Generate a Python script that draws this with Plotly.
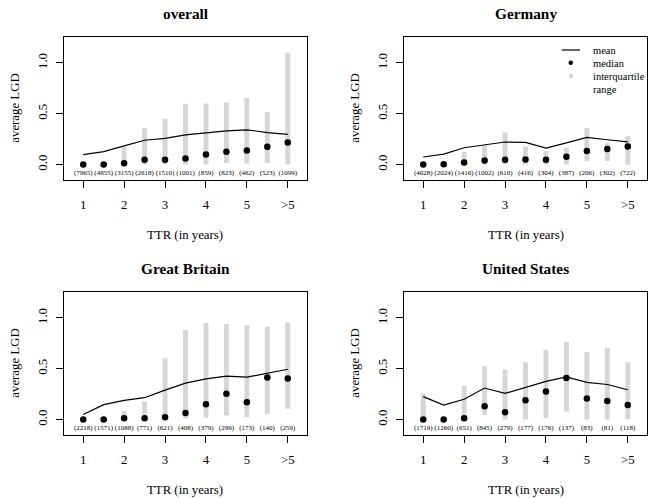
import plotly.graph_objects as go

W, H = 653, 498
FONT = "Liberation Serif"

positions = [1, 2, 3, 4, 5, 6, 7, 8, 9, 10, 11]
tick_positions = [1, 3, 5, 7, 9, 11]
tick_labels = ["1", "2", "3", "4", "5", ">5"]
y_ticks = [0.0, 0.5, 1.0]
y_tick_labels = ["0.0", "0.5", "1.0"]

panel_titles = ["overall", "Germany", "Great Britain", "United States"]

counts_overall = [7965, 4855, 3155, 2618, 1510, 1001, 859, 823, 462, 523, 1099]
mean_overall = [0.098, 0.127, 0.183, 0.239, 0.257, 0.292, 0.311, 0.331, 0.342, 0.315, 0.296]
median_overall = [0.0, 0.0, 0.013, 0.047, 0.047, 0.06, 0.098, 0.125, 0.139, 0.174, 0.216]
q1_overall = [0.0, 0.0, 0.0, 0.0, 0.0, 0.0, 0.0, 0.016, 0.01, 0.016, 0.0]
q3_overall = [0.0, 0.0, 0.173, 0.356, 0.451, 0.598, 0.601, 0.611, 0.654, 0.516, 1.101]

counts_germany = [4028, 2024, 1416, 1002, 610, 416, 304, 387, 206, 302, 722]
mean_germany = [0.074, 0.103, 0.165, 0.197, 0.222, 0.218, 0.161, 0.214, 0.267, 0.244, 0.224]
median_germany = [0.0, 0.003, 0.02, 0.039, 0.047, 0.05, 0.047, 0.077, 0.134, 0.154, 0.178]
q1_germany = [0.0, 0.0, 0.0, 0.0, 0.0, 0.0, 0.0, 0.0, 0.032, 0.036, 0.0]
q3_germany = [0.0, 0.0, 0.125, 0.19, 0.316, 0.178, 0.134, 0.165, 0.36, 0.21, 0.279]

counts_gb = [2218, 1571, 1088, 771, 621, 408, 379, 299, 173, 140, 259]
mean_gb = [0.049, 0.147, 0.189, 0.215, 0.29, 0.358, 0.4, 0.427, 0.417, 0.453, 0.495]
median_gb = [0.0, 0.0, 0.013, 0.013, 0.023, 0.065, 0.15, 0.254, 0.169, 0.414, 0.404]
q1_gb = [0.0, 0.0, 0.0, 0.0, 0.0, 0.013, 0.02, 0.04, 0.023, 0.052, 0.107]
q3_gb = [0.0, 0.0, 0.085, 0.179, 0.603, 0.88, 0.951, 0.941, 0.928, 0.912, 0.954]

counts_us = [1719, 1260, 651, 845, 279, 177, 176, 137, 83, 81, 118]
mean_us = [0.225, 0.143, 0.2, 0.31, 0.257, 0.316, 0.375, 0.42, 0.365, 0.345, 0.293]
median_us = [0.0, 0.0, 0.013, 0.13, 0.072, 0.189, 0.277, 0.41, 0.208, 0.182, 0.143]
q1_us = [0.0, 0.0, 0.0, 0.046, 0.0, 0.0, 0.016, 0.078, 0.0, 0.0, 0.0]
q3_us = [0.251, 0.0, 0.332, 0.524, 0.492, 0.564, 0.687, 0.762, 0.664, 0.707, 0.564]

panels = [
    (counts_overall, mean_overall, median_overall, q1_overall, q3_overall),
    (counts_germany, mean_germany, median_germany, q1_germany, q3_germany),
    (counts_gb, mean_gb, median_gb, q1_gb, q3_gb),
    (counts_us, mean_us, median_us, q1_us, q3_us),
]

# pixel boxes of the four plot regions: (left, right, top, bottom)
boxes = [(64, 307, 37.3, 180), (404, 647, 37.3, 180),
         (64, 307, 292.3, 435), (404, 647, 292.3, 435)]

IQR_COLOR = "#d6d6d6"

def px_x(px):
    return px / W

def px_y(py):
    return 1 - py / H

fig = go.Figure()
layout = dict(
    width=W, height=H, margin=dict(l=0, r=0, t=0, b=0),
    paper_bgcolor="white", plot_bgcolor="white",
    showlegend=False, barmode="overlay",
    font=dict(family=FONT, color="black"),
)
annotations = []
shapes = []

for i, (counts, mean, median, q1, q3) in enumerate(panels):
    n = i + 1
    xa = "x" if n == 1 else f"x{n}"
    ya = "y" if n == 1 else f"y{n}"
    l, r, t, b = boxes[i]
    layout["xaxis" if n == 1 else f"xaxis{n}"] = dict(
        domain=[px_x(l), px_x(r)], range=[0.06, 11.94], anchor=ya,
        tickmode="array", tickvals=tick_positions, ticktext=tick_labels,
        ticks="outside", ticklen=7, tickwidth=1, tickcolor="black",
        showline=True, mirror=True, linecolor="black", linewidth=1,
        showgrid=False, zeroline=False, fixedrange=True,
        tickfont=dict(family=FONT, size=12.8, color="black"),
        ticklabelstandoff=6,
    )
    layout["yaxis" if n == 1 else f"yaxis{n}"] = dict(
        domain=[px_y(b), px_y(t)], range=[-0.152, 1.252], anchor=xa,
        tickmode="array", tickvals=y_ticks, ticktext=y_tick_labels,
        ticks="outside", ticklen=7, tickwidth=1, tickcolor="black",
        showline=True, mirror=True, linecolor="black", linewidth=1,
        showgrid=False, zeroline=False, fixedrange=True, tickangle=-90,
        tickfont=dict(family=FONT, size=12.8, color="black"),
        ticklabelstandoff=4,
    )
    heights = [hi - lo for lo, hi in zip(q1, q3)]
    fig.add_trace(go.Bar(x=positions, y=heights, base=q1, width=0.24,
                         marker=dict(color=IQR_COLOR, line=dict(width=0)),
                         xaxis=xa, yaxis=ya, hoverinfo="skip"))
    fig.add_trace(go.Scatter(x=positions, y=mean, mode="lines",
                             line=dict(color="black", width=1.2),
                             xaxis=xa, yaxis=ya, hoverinfo="skip"))
    fig.add_trace(go.Scatter(x=positions, y=median, mode="markers",
                             marker=dict(color="black", size=6.5),
                             xaxis=xa, yaxis=ya, hoverinfo="skip"))
    fig.add_trace(go.Scatter(x=positions, y=[-0.09] * len(positions),
                             mode="text", text=[f"({c})" for c in counts],
                             textposition="middle center",
                             textfont=dict(family=FONT, size=7, color="black"),
                             xaxis=xa, yaxis=ya, hoverinfo="skip"))
    cx = (l + r) / 2
    # panel title
    annotations.append(dict(text=f"<b>{panel_titles[i]}</b>", x=px_x(cx), y=px_y(t - 24),
                            xref="paper", yref="paper", showarrow=False,
                            xanchor="center", yanchor="middle",
                            font=dict(family=FONT, size=15.3, color="black")))
    # x axis title
    annotations.append(dict(text="TTR (in years)", x=px_x(cx), y=px_y(b + 55),
                            xref="paper", yref="paper", showarrow=False,
                            xanchor="center", yanchor="middle",
                            font=dict(family=FONT, size=12.8, color="black")))
    # y axis title
    annotations.append(dict(text="average LGD", x=px_x(l - 49), y=px_y((t + b) / 2),
                            xref="paper", yref="paper", showarrow=False,
                            xanchor="center", yanchor="middle", textangle=-90,
                            font=dict(family=FONT, size=12.8, color="black")))

# legend in the Germany panel
leg_font = dict(family=FONT, size=10.5, color="black")
shapes.append(dict(type="line", xref="paper", yref="paper",
                   x0=px_x(561.7), x1=px_x(580), y0=px_y(50), y1=px_y(50),
                   line=dict(color="black", width=1.2)))
shapes.append(dict(type="circle", xref="paper", yref="paper",
                   x0=px_x(568.5), x1=px_x(573), y0=px_y(65), y1=px_y(60.5),
                   fillcolor="black", line=dict(width=0)))
shapes.append(dict(type="rect", xref="paper", yref="paper",
                   x0=px_x(569), x1=px_x(573), y0=px_y(78), y1=px_y(74),
                   fillcolor=IQR_COLOR, line=dict(width=0)))
for txt, yy in [("mean", 50.5), ("median", 63), ("interquartile", 76), ("range", 89)]:
    annotations.append(dict(text=txt, x=px_x(590.5), y=px_y(yy), xref="paper", yref="paper",
                            showarrow=False, xanchor="left", yanchor="middle", font=leg_font))

layout["annotations"] = annotations
layout["shapes"] = shapes
fig.update_layout(**layout)
fig.write_html("out.html")
